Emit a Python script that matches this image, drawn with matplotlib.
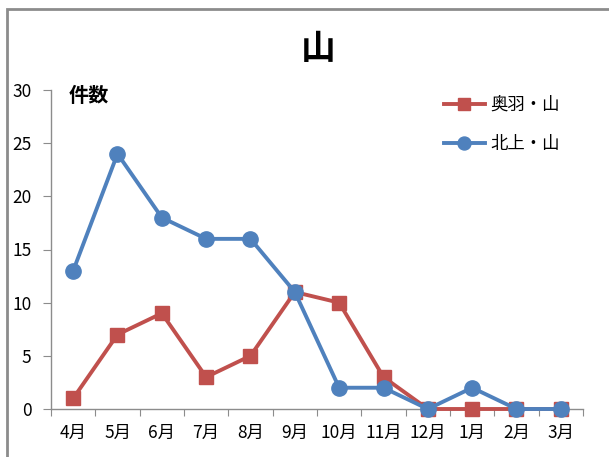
import matplotlib
matplotlib.use("Agg")
import matplotlib.pyplot as plt
from matplotlib.patches import Rectangle
import numpy as np

plt.rcParams['font.family'] = ['Noto Sans CJK JP', 'DejaVu Sans']

months = ["4月", "5月", "6月", "7月", "8月", "9月", "10月", "11月", "12月", "1月", "2月", "3月"]
ou_values = [1, 7, 9, 3, 5, 11, 10, 3, 0, 0, 0, 0]
kita_values = [13, 24, 18, 16, 16, 11, 2, 2, 0, 2, 0, 0]
series_names = ["奥羽・山", "北上・山"]
yticks = [0, 5, 10, 15, 20, 25, 30]

W, H = 609, 457
fig = plt.figure(figsize=(W / 100, H / 100), dpi=100)
fig.patch.set_facecolor("white")

# outer frame
fig.patches.append(Rectangle((7 / W, -0.1), 1.2, 1 - 9 / H + 0.1, transform=fig.transFigure,
                             fill=False, edgecolor="#8c8c8c", linewidth=2))

L, R, T, B = 51, 583, 90, 409
ax = fig.add_axes([L / W, 1 - B / H, (R - L) / W, (B - T) / H])
x = np.arange(len(months))
ax.plot(x, ou_values, color="#C0504D", linewidth=2.8, marker="s", markersize=10.5,
        label=series_names[0], clip_on=False, zorder=3)
ax.plot(x, kita_values, color="#4F81BD", linewidth=2.8, marker="o", markersize=11,
        label=series_names[1], clip_on=False, zorder=4)

ax.set_xlim(-0.5, len(months) - 0.5)
ax.set_ylim(0, 30)
ax.set_yticks(yticks)
ax.set_yticklabels([str(v) for v in yticks], fontsize=12.5)
ax.set_xticks(np.arange(-0.5, len(months), 1.0))
ax.set_xticklabels([])
ax.set_xticks(x, minor=True)
ax.set_xticklabels(months, minor=True, fontsize=12.5)
ax.tick_params(axis="x", which="major", length=5, color="#8c8c8c", direction="out")
ax.tick_params(axis="x", which="minor", length=0, pad=11)
ax.tick_params(axis="y", length=6, color="#8c8c8c", direction="out", pad=8)

for s in ["top", "right"]:
    ax.spines[s].set_visible(False)
for s in ["left", "bottom"]:
    ax.spines[s].set_color("#8c8c8c")
    ax.spines[s].set_linewidth(1)

fig.text(318 / W, 1 - 48 / H, "山", ha="center", va="center", fontsize=25, fontweight="bold")
fig.text(69 / W, 1 - 95 / H, "件数", ha="left", va="center", fontsize=14.5, fontweight="bold")

leg = ax.legend(loc="upper left", bbox_to_anchor=((428 - L) / (R - L), 1 - (80 - T) / (B - T)),
                frameon=False, fontsize=12.5, handlelength=2.4, labelspacing=1.25,
                handletextpad=0.3, markerscale=0.85)

fig.savefig("out.png", dpi=100)
